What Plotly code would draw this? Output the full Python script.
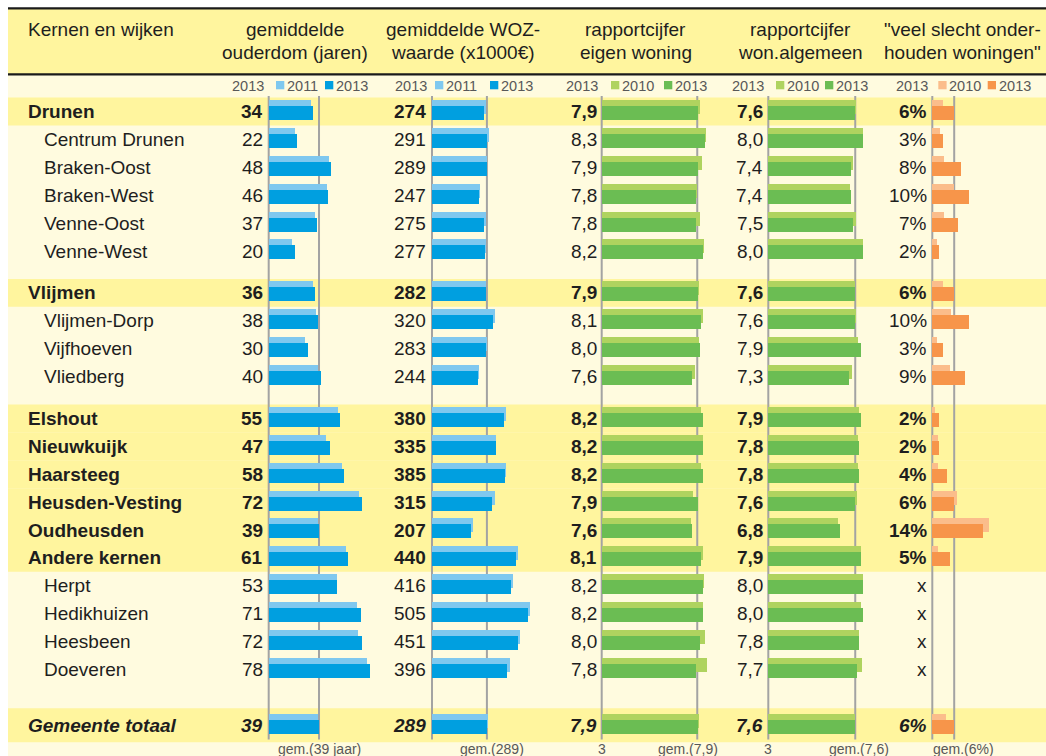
import plotly.graph_objects as go

W, H = 1046, 756

# ---------------- data ----------------
names = ["Drunen", "Centrum Drunen", "Braken-Oost", "Braken-West", "Venne-Oost", "Venne-West",
         "Vlijmen", "Vlijmen-Dorp", "Vijfhoeven", "Vliedberg",
         "Elshout", "Nieuwkuijk", "Haarsteeg", "Heusden-Vesting", "Oudheusden", "Andere kernen",
         "Herpt", "Hedikhuizen", "Heesbeen", "Doeveren",
         "Gemeente totaal"]
level = ["kern", "wijk", "wijk", "wijk", "wijk", "wijk",
         "kern", "wijk", "wijk", "wijk",
         "kern", "kern", "kern", "kern", "kern", "kern",
         "wijk", "wijk", "wijk", "wijk",
         "totaal"]
group = [0, 0, 0, 0, 0, 0, 1, 1, 1, 1, 2, 2, 2, 2, 2, 2, 2, 2, 2, 2, 3]

ouderdom_2013 = [34, 22, 48, 46, 37, 20, 36, 38, 30, 40, 55, 47, 58, 72, 39, 61, 53, 71, 72, 78, 39]
ouderdom_2011 = [32.6, 19.9, 46.3, 45, 35.7, 18.1, 33.9, 36.4, 27.7, 38, 53.3, 44.4, 56.4, 70, 38.2,
                 59.7, 52.7, 68.2, 68.8, 76, 37.8]
woz_2013 = [274, 291, 289, 247, 275, 277, 282, 320, 283, 244, 380, 335, 385, 315, 207, 440, 416, 505,
            451, 396, 289]
woz_2011 = [283, 302, 292, 254, 282, 284, 286, 332, 287, 249, 391, 339, 390, 329, 218, 452, 427, 516,
            464, 410, 296]
eigen_2013 = [7.9, 8.3, 7.9, 7.8, 7.8, 8.2, 7.9, 8.1, 8.0, 7.6, 8.2, 8.2, 8.2, 7.9, 7.6, 8.1, 8.2, 8.2,
              8.0, 7.8, 7.9]
eigen_2010 = [8.0, 8.35, 8.12, 7.85, 8.02, 8.25, 7.98, 8.19, 7.97, 7.79, 8.06, 8.16, 8.1, 7.68, 7.56,
              8.18, 8.23, 8.2, 8.26, 8.38, 7.97]
alg_2013 = [7.6, 8.0, 7.4, 7.4, 7.5, 8.0, 7.6, 7.6, 7.9, 7.3, 7.9, 7.8, 7.8, 7.6, 6.8, 7.9, 8.0, 8.0,
            7.8, 7.7, 7.6]
alg_2010 = [7.65, 8.0, 7.52, 7.36, 7.64, 8.05, 7.6, 7.65, 7.74, 7.44, 7.81, 7.78, 7.77, 7.69, 6.68,
            7.92, 8.0, 7.91, 7.84, 7.98, 7.6]
slecht_2013 = [6, 3, 8, 10, 7, 2, 6, 10, 3, 9, 2, 2, 4, 6, 14, 5, None, None, None, None, 6]
slecht_2010 = [3.0, 2.1, 3.2, 5.9, 3.3, 1.4, 3.0, 5.2, 1.4, 4.8, 0.9, 1.7, 1.6, 6.8, 15.5, 1.6,
               None, None, None, None, 3.8]

header_line1 = ["gemiddelde", "gemiddelde WOZ-", "rapportcijfer", "rapportcijfer", "\"veel slecht onder-"]
header_line2 = ["ouderdom (jaren)", "waarde (x1000€)", "eigen woning", "won.algemeen", "houden woningen\""]
legend_years = [("2011", "2013"), ("2011", "2013"), ("2010", "2013"), ("2010", "2013"), ("2010", "2013")]
value_year = "2013"

# ---------------- layout helpers ----------------
ROW0, PITCH = 111.5, 27.9   # pixel centre of first row, row pitch


def X(px):
    return px / W


def Yp(py):
    return 1 - py / H


# row positions (row units) : groups separated by gaps
gap_after = {0: 0.5, 1: 0.5, 2: 1.0}
row_pos = []
pos = 0.0
for i, g in enumerate(group):
    if i > 0 and g != group[i - 1]:
        pos += 1 + gap_after[group[i - 1]]
    elif i > 0:
        pos += 1
    row_pos.append(pos)

y_top = -ROW0 / PITCH
y_bot = (H - ROW0) / PITCH


def py2row(py):
    return (py - ROW0) / PITCH


# columns: axis start pixel, px per unit, base value, right end pixel, value-label right edge
cols = [
    dict(start=268.7, scale=1.29, base=0, end=400, vr=263.5, light="#7fc8ef", dark="#009fe0",
         old=ouderdom_2011, new=ouderdom_2013, fmt=lambda v: f"{v:.0f}",
         leg=(276, 325), bottom=[(319, "gem.(%s jaar)")], gem_fmt=lambda v: f"{v:.0f}"),
    dict(start=432.0, scale=0.19, base=0, end=560, vr=426.5, light="#7fc8ef", dark="#009fe0",
         old=woz_2011, new=woz_2013, fmt=lambda v: f"{v:.0f}",
         leg=(435, 490), bottom=[(492, "gem.(%s)")], gem_fmt=lambda v: f"{v:.0f}"),
    dict(start=601.7, scale=19.5, base=3, end=728, vr=597.8, light="#afd35f", dark="#6bbd53",
         old=eigen_2010, new=eigen_2013, fmt=lambda v: f"{v:.1f}".replace(".", ","),
         leg=(611, 664), bottom=[(687.5, "gem.(%s)")], gem_fmt=lambda v: f"{v:.1f}".replace(".", ",")),
    dict(start=768.3, scale=18.9, base=3, end=895, vr=763.8, light="#afd35f", dark="#6bbd53",
         old=alg_2010, new=alg_2013, fmt=lambda v: f"{v:.1f}".replace(".", ","),
         leg=(776, 825), bottom=[(859, "gem.(%s)")], gem_fmt=lambda v: f"{v:.1f}".replace(".", ",")),
    dict(start=932.3, scale=3.65, base=0, end=1046, vr=927.8, light="#fbbd8b", dark="#f7954a",
         old=slecht_2010, new=slecht_2013, fmt=lambda v: "x" if v is None else f"{v:.0f}%",
         leg=(938.3, 987.7), bottom=[(963.8, "gem.(%s%%)")], gem_fmt=lambda v: f"{v:.0f}"),
]
header_centers = [295, 463, 635.7, 800.3, 962.5]

BG_CREAM = "#fffbdf"
BG_YELLOW = "#fff59e"
TXT = "#1e1e1e"
GREY_TXT = "#585858"
LINE_GREY = "#a3a3a3"
FONT = "Liberation Sans, Arial, sans-serif"
BOTTOM_Y = 749.0

fig = go.Figure()
shapes = []
annotations = []

# background
shapes.append(dict(type="rect", xref="paper", yref="paper", x0=X(8), x1=1, y0=Yp(H), y1=Yp(74),
                   fillcolor=BG_CREAM, line_width=0, layer="below"))
shapes.append(dict(type="rect", xref="paper", yref="paper", x0=X(8), x1=1, y0=Yp(74), y1=Yp(8.3),
                   fillcolor=BG_YELLOW, line_width=0, layer="below"))
# highlighted rows
for i, lv in enumerate(level):
    if lv in ("kern", "totaal"):
        half = 0.5 if lv == "kern" else 0.61
        shapes.append(dict(type="rect", xref="paper", yref="y", x0=X(8), x1=1,
                           y0=row_pos[i] - half, y1=row_pos[i] + half,
                           fillcolor=BG_YELLOW, line_width=0, layer="below"))
# header rules
for y0, y1 in [(7.2, 9.4), (73.3, 75.6)]:
    shapes.append(dict(type="rect", xref="paper", yref="paper", x0=X(8), x1=1, y0=Yp(y1), y1=Yp(y0),
                       fillcolor="#1a1a1a", line_width=0, layer="above"))

gem_values = [ouderdom_2013[-1], woz_2013[-1], eigen_2013[-1], alg_2013[-1], slecht_2013[-1]]

LIGHT_OFF = -4.6 / PITCH
DARK_OFF = 1.4 / PITCH
BAR_W = 14.0 / PITCH

for k, c in enumerate(cols):
    ax = "x" if k == 0 else f"x{k + 1}"
    axname = "xaxis" if k == 0 else f"xaxis{k + 1}"
    pad = 3.0 / c["scale"]
    lo = c["base"] - pad
    hi = c["base"] + (c["end"] - c["start"]) / c["scale"]
    fig.update_layout({axname: dict(domain=[X(c["start"] - 3), X(c["end"])], range=[lo, hi],
                                    visible=False, anchor="y", fixedrange=True)})
    # light (older year) bars, behind
    fig.add_trace(go.Bar(orientation="h", xaxis=ax, yaxis="y",
                         y=[p + LIGHT_OFF for p in row_pos],
                         x=[None if v is None else v - c["base"] for v in c["old"]],
                         base=c["base"], width=BAR_W, marker=dict(color=c["light"], line_width=0),
                         hoverinfo="skip", showlegend=False))
    fig.add_trace(go.Bar(orientation="h", xaxis=ax, yaxis="y",
                         y=[p + DARK_OFF for p in row_pos],
                         x=[None if v is None else v - c["base"] for v in c["new"]],
                         base=c["base"], width=BAR_W, marker=dict(color=c["dark"], line_width=0),
                         hoverinfo="skip", showlegend=False))
    # reference lines: axis start and municipal average
    for xv in (c["base"], gem_values[k]):
        shapes.append(dict(type="line", xref=ax, yref="y", x0=xv, x1=xv,
                           y0=py2row(96), y1=py2row(739.5),
                           line=dict(color=LINE_GREY, width=2), layer="below"))
    # value labels
    for i, v in enumerate(c["new"]):
        t = c["fmt"](v)
        if level[i] == "kern" and v is not None:
            t = f"<b>{t}</b>"
        elif level[i] == "totaal":
            t = f"<b><i>{t}</i></b>"
        annotations.append(dict(xref="paper", yref="y", x=X(c["vr"] + 1), y=row_pos[i], text=t,
                                xanchor="right", yanchor="middle", showarrow=False,
                                font=dict(size=19, color=TXT, family=FONT)))
    # headers
    annotations.append(dict(xref="paper", yref="paper", x=X(header_centers[k]), y=Yp(29.5),
                            text=header_line1[k], xanchor="center", yanchor="middle", showarrow=False,
                            font=dict(size=19, color=TXT, family=FONT)))
    annotations.append(dict(xref="paper", yref="paper", x=X(header_centers[k]), y=Yp(52.8),
                            text=header_line2[k], xanchor="center", yanchor="middle", showarrow=False,
                            font=dict(size=19, color=TXT, family=FONT)))
    # legend row
    annotations.append(dict(xref="paper", yref="paper", x=X(c["vr"] + 2), y=Yp(85.5), text=value_year,
                            xanchor="right", yanchor="middle", showarrow=False,
                            font=dict(size=14.5, color=GREY_TXT, family=FONT)))
    for j, (sx, col) in enumerate(zip(c["leg"], (c["light"], c["dark"]))):
        shapes.append(dict(type="rect", xref="paper", yref="paper", x0=X(sx), x1=X(sx + 8.3),
                           y0=Yp(89.3), y1=Yp(81), fillcolor=col, line_width=0, layer="above"))
        annotations.append(dict(xref="paper", yref="paper", x=X(sx + 9), y=Yp(85.5),
                                text=legend_years[k][j], xanchor="left", yanchor="middle",
                                showarrow=False, font=dict(size=14.5, color=GREY_TXT, family=FONT)))
    # bottom labels
    if c["base"] == 3:
        annotations.append(dict(xref="paper", yref="paper", x=X(c["start"]), y=Yp(BOTTOM_Y), text="3",
                                xanchor="center", yanchor="middle", showarrow=False,
                                font=dict(size=14, color=GREY_TXT, family=FONT)))
    for bx, tmpl in c["bottom"]:
        annotations.append(dict(xref="paper", yref="paper", x=X(bx), y=Yp(BOTTOM_Y),
                                text=tmpl % c["gem_fmt"](gem_values[k]),
                                xanchor="center", yanchor="middle", showarrow=False,
                                font=dict(size=14, color=GREY_TXT, family=FONT)))

# row names
for i, nm in enumerate(names):
    if level[i] == "kern":
        t, x0 = f"<b>{nm}</b>", 26
    elif level[i] == "totaal":
        t, x0 = f"<b><i>{nm}</i></b>", 26
    else:
        t, x0 = nm, 41.7
    annotations.append(dict(xref="paper", yref="y", x=X(x0), y=row_pos[i], text=t, xanchor="left",
                            yanchor="middle", showarrow=False,
                            font=dict(size=19, color=TXT, family=FONT)))
annotations.append(dict(xref="paper", yref="paper", x=X(26), y=Yp(29.5), text="Kernen en wijken",
                        xanchor="left", yanchor="middle", showarrow=False,
                        font=dict(size=19, color=TXT, family=FONT)))

fig.update_layout(
    width=W, height=H, margin=dict(l=0, r=0, t=0, b=0, pad=0),
    paper_bgcolor="white", plot_bgcolor="rgba(0,0,0,0)",
    barmode="overlay", bargap=0, showlegend=False,
    yaxis=dict(range=[y_bot, y_top], domain=[0, 1], visible=False, fixedrange=True, anchor="x"),
    shapes=shapes, annotations=annotations,
    font=dict(family=FONT),
)

fig.write_html("out.html", post_script="document.body.style.margin='0';document.body.style.overflow='hidden';",
               config={"displayModeBar": False})
